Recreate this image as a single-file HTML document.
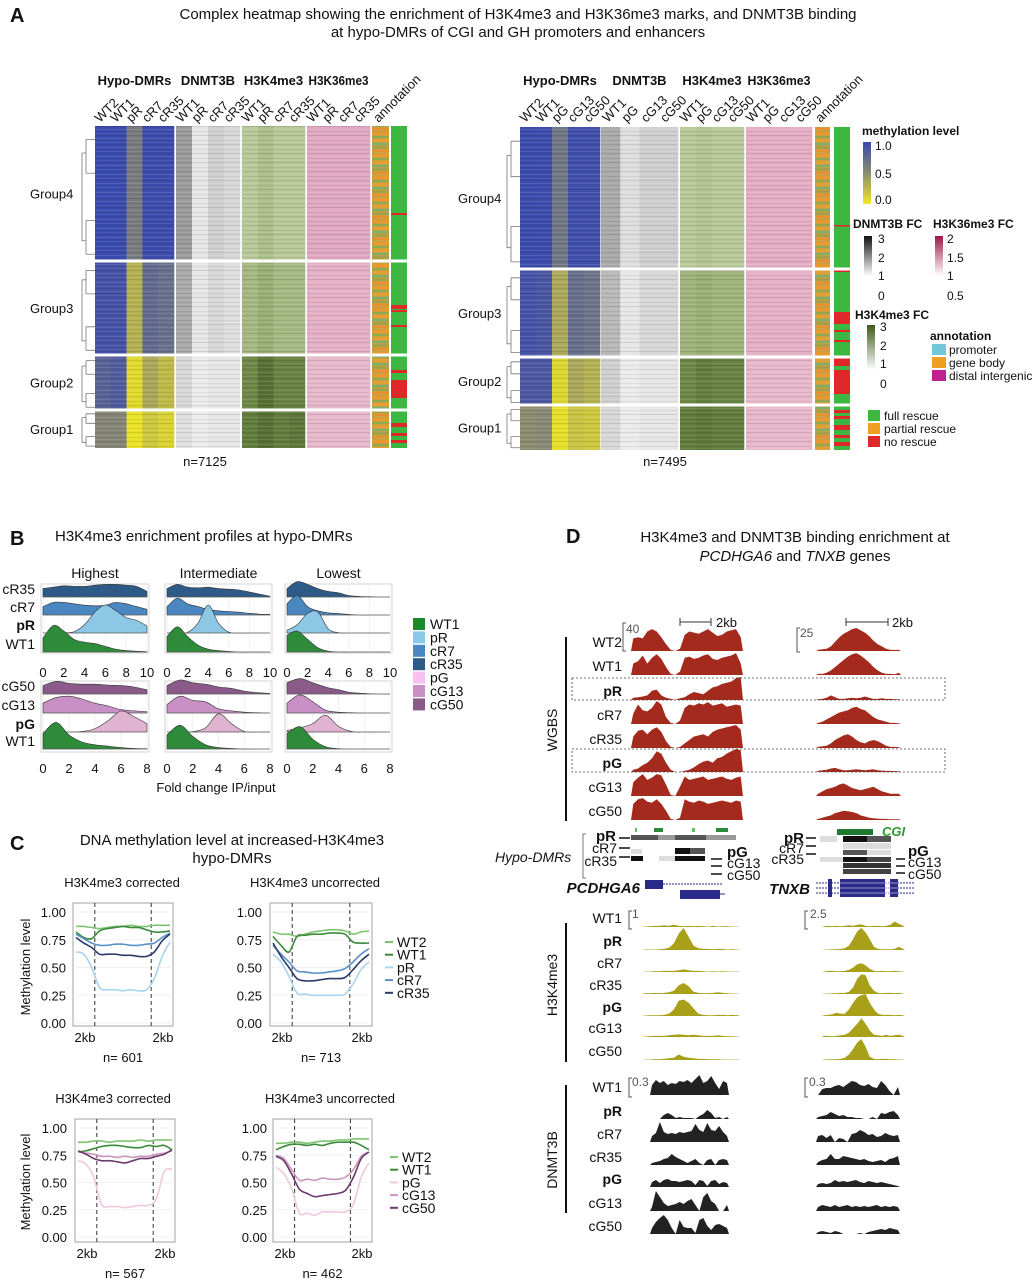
<!DOCTYPE html>
<html><head><meta charset="utf-8"><style>
html,body{margin:0;padding:0;background:#fff;}
svg{display:block;font-family:"Liberation Sans",Arial,sans-serif;}
</style></head><body>
<svg id="fig" width="1035" height="1280" viewBox="0 0 1035 1280" xmlns="http://www.w3.org/2000/svg">
<defs>
<pattern id="stripes" width="7" height="9" patternUnits="userSpaceOnUse">
<rect x="0" y="0" width="7" height="1" fill="#000" opacity="0.10"/>
<rect x="0" y="3" width="7" height="1" fill="#fff" opacity="0.12"/>
<rect x="0" y="5" width="7" height="1" fill="#000" opacity="0.06"/>
<rect x="0" y="7" width="7" height="1" fill="#fff" opacity="0.08"/>
</pattern>
<pattern id="annotTex" width="16" height="22" patternUnits="userSpaceOnUse">
<rect width="16" height="22" fill="#c8a040"/>
<rect y="0" width="16" height="3" fill="#e89a30"/>
<rect y="4" width="16" height="2" fill="#90a850"/>
<rect y="7" width="16" height="3" fill="#e0a035"/>
<rect y="11" width="16" height="2" fill="#78b070"/>
<rect y="14" width="16" height="3" fill="#a8a048"/>
<rect y="18" width="16" height="2" fill="#e89030"/>
</pattern>
<linearGradient id="gMeth" x1="0" y1="0" x2="0" y2="1"><stop offset="0" stop-color="#3848b0"/><stop offset="0.5" stop-color="#8c8c70"/><stop offset="1" stop-color="#f0e820"/></linearGradient>
<linearGradient id="gDnmt" x1="0" y1="0" x2="0" y2="1"><stop offset="0" stop-color="#111"/><stop offset="1" stop-color="#fff"/></linearGradient>
<linearGradient id="gK36" x1="0" y1="0" x2="0" y2="1"><stop offset="0" stop-color="#a01848"/><stop offset="1" stop-color="#fff"/></linearGradient>
<linearGradient id="gK4" x1="0" y1="0" x2="0" y2="1"><stop offset="0" stop-color="#3e5a20"/><stop offset="1" stop-color="#fff"/></linearGradient>
</defs>
<rect width="1035" height="1280" fill="#fff"/>
<g id="root"></g>
</svg>
<script>
// ================= DATA =================
const methLeft = [[0.98,0.98,0.62,0.97,0.97],[0.93,0.93,0.30,0.75,0.70],[0.80,0.85,0.08,0.35,0.25],[0.55,0.55,0.04,0.18,0.12]];
const dnmtLeft = [[1.5,0.5,0.8,0.7],[1.3,0.5,0.7,0.6],[0.7,0.4,0.5,0.5],[0.6,0.4,0.5,0.5]];
const k4Left = [[1.0,1.2,1.0,1.0],[1.3,1.5,1.3,1.3],[2.2,2.6,2.3,2.3],[2.4,2.6,2.4,2.5]];
const k36Left = [[1.15,1.15,1.15,1.15],[1.1,1.1,1.1,1.1],[1.05,1.05,1.05,1.05],[1.05,1.05,1.05,1.05]];
const methRight = [[0.98,0.97,0.66,0.95,0.95],[0.92,0.90,0.35,0.72,0.68],[0.88,0.88,0.10,0.35,0.30],[0.50,0.52,0.05,0.20,0.18]];
const dnmtRight = [[1.3,0.6,0.8,0.8],[1.1,0.5,0.7,0.7],[0.8,0.4,0.5,0.5],[0.7,0.4,0.5,0.5]];
const k4Right = [[1.0,1.1,1.0,1.0],[1.4,1.5,1.4,1.4],[2.2,2.4,2.3,2.3],[2.4,2.5,2.4,2.4]];
const k36Right = [[1.12,1.12,1.12,1.12],[1.1,1.1,1.1,1.1],[1.05,1.05,1.05,1.05],[1.05,1.05,1.05,1.05]];
const colsLeft = {hypo:["WT2","WT1","pR","cR7","cR35"], chip:["WT1","pR","cR7","cR35"]};
const colsRight = {hypo:["WT2","WT1","pG","cG13","cG50"], chip:["WT1","pG","cG13","cG50"]};
const groupNames = ["Group4","Group3","Group2","Group1"];

const ridgeTopLabels = ["cR35","cR7","pR","WT1"];
const ridgeBotLabels = ["cG50","cG13","pG","WT1"];
const ridgeTopTicks = [0,2,4,6,8,10];
const ridgeBotTicks = [0,2,4,6,8];
const ridgeHighestTop = [
 [0.3,0.35,0.4,0.38,0.38,0.42,0.45,0.45,0.42,0.38,0.2],
 [0.3,0.45,0.45,0.4,0.35,0.33,0.35,0.45,0.4,0.3,0.2],
 [0,0,0.01,0.05,0.3,0.75,1,0.8,0.55,0.45,0.25],
 [0.5,0.95,0.75,0.45,0.35,0.3,0.2,0.1,0.05,0.03,0.01]];
const ridgeInterTop = [
 [0.3,0.45,0.35,0.33,0.35,0.3,0.28,0.25,0.18,0.1,0.03],
 [0.3,0.6,0.4,0.3,0.2,0.15,0.12,0.1,0.06,0.03,0.02],
 [0,0,0.02,0.35,1.0,0.35,0.03,0,0,0,0],
 [0.55,0.9,0.55,0.25,0.1,0.05,0.02,0,0,0,0]];
const ridgeLowTop = [
 [0.3,0.55,0.45,0.3,0.2,0.15,0.05,0.02,0.01,0,0],
 [0.4,0.7,0.3,0.15,0.08,0.05,0.02,0,0,0,0],
 [0.1,0.3,0.7,0.75,0.15,0.01,0,0,0,0,0],
 [0.6,0.75,0.45,0.15,0.03,0,0,0,0,0,0]];
const ridgeHighestBot = [
 [0.3,0.45,0.38,0.35,0.35,0.32,0.3,0.25,0.15],
 [0.35,0.55,0.6,0.5,0.35,0.25,0.12,0.08,0.05],
 [0,0,0,0.02,0.12,0.4,0.75,0.55,0.3],
 [0.55,0.95,0.5,0.25,0.15,0.1,0.05,0.02,0.01]];
const ridgeInterBot = [
 [0.3,0.5,0.4,0.35,0.25,0.2,0.1,0.05,0.02],
 [0.3,0.6,0.45,0.4,0.15,0.08,0.03,0.01,0],
 [0,0,0.01,0.15,0.65,0.3,0.02,0,0],
 [0.5,0.85,0.45,0.15,0.05,0.02,0,0,0]];
const ridgeLowBot = [
 [0.4,0.55,0.4,0.25,0.15,0.05,0.02,0,0],
 [0.35,0.65,0.4,0.1,0.03,0.01,0,0,0],
 [0.05,0.15,0.3,0.6,0.2,0.02,0,0,0],
 [0.55,0.8,0.35,0.08,0.01,0,0,0,0]];

const cYTicks = [0,0.25,0.5,0.75,1.0];
const cYTickLabels = ["0.00","0.25","0.50","0.75","1.00"];
const cRSeries = ["WT2","WT1","pR","cR7","cR35"];
const cGSeries = ["WT2","WT1","pG","cG13","cG50"];
const corrR = [
 [0.87,0.87,0.86,0.85,0.86,0.87,0.87,0.88,0.87,0.87,0.88,0.88,0.88],
 [0.82,0.77,0.76,0.83,0.85,0.86,0.87,0.86,0.86,0.84,0.82,0.82,0.83],
 [0.64,0.62,0.5,0.32,0.3,0.3,0.29,0.3,0.29,0.3,0.4,0.6,0.73],
 [0.8,0.76,0.72,0.7,0.7,0.71,0.71,0.7,0.7,0.71,0.72,0.77,0.81],
 [0.77,0.72,0.68,0.62,0.62,0.62,0.61,0.61,0.6,0.6,0.64,0.74,0.8]];
const uncorrR = [
 [0.82,0.8,0.8,0.78,0.8,0.82,0.83,0.84,0.84,0.83,0.8,0.82,0.83],
 [0.78,0.7,0.64,0.78,0.79,0.8,0.8,0.81,0.81,0.8,0.73,0.72,0.72],
 [0.62,0.55,0.42,0.27,0.26,0.25,0.25,0.25,0.25,0.26,0.35,0.48,0.55],
 [0.7,0.62,0.55,0.47,0.46,0.45,0.45,0.46,0.47,0.49,0.55,0.62,0.67],
 [0.72,0.6,0.5,0.4,0.38,0.38,0.39,0.4,0.4,0.41,0.48,0.56,0.62]];
const corrG = [
 [0.87,0.87,0.88,0.88,0.87,0.88,0.88,0.88,0.89,0.88,0.89,0.89,0.89],
 [0.78,0.79,0.81,0.83,0.84,0.84,0.83,0.82,0.82,0.84,0.83,0.84,0.8],
 [0.7,0.67,0.55,0.3,0.28,0.28,0.27,0.28,0.29,0.29,0.35,0.6,0.62],
 [0.78,0.77,0.76,0.74,0.74,0.73,0.74,0.73,0.74,0.74,0.76,0.77,0.79],
 [0.79,0.76,0.72,0.7,0.7,0.69,0.68,0.7,0.72,0.72,0.74,0.76,0.8]];
const uncorrG = [
 [0.86,0.86,0.87,0.87,0.86,0.87,0.88,0.88,0.89,0.89,0.9,0.9,0.9],
 [0.8,0.83,0.85,0.85,0.84,0.85,0.84,0.86,0.87,0.87,0.87,0.84,0.8],
 [0.64,0.58,0.45,0.22,0.22,0.2,0.23,0.23,0.23,0.23,0.3,0.55,0.68],
 [0.75,0.72,0.62,0.52,0.53,0.52,0.54,0.53,0.53,0.55,0.62,0.74,0.78],
 [0.74,0.7,0.58,0.44,0.4,0.37,0.38,0.39,0.4,0.43,0.55,0.72,0.78]];
const cN = ["n= 601","n= 713","n= 567","n= 462"];

const trackLabels = ["WT2","WT1","pR","cR7","cR35","pG","cG13","cG50"];
const chipLabels = ["WT1","pR","cR7","cR35","pG","cG13","cG50"];
const wgbsLeft = [
 [.55,.6,.55,.85,.95,.85,.6,.3,.05,0,.1,.7,.85,.8,.75,.85,.95,.8,.65,.7,.85,.9,.95,.6],
 [.5,.6,.85,.5,.75,.9,.7,.35,.05,0,.15,.75,.8,.7,.75,.85,.9,.7,.65,.75,.8,.85,.95,.5],
 [.1,.12,.15,.2,.4,.45,.2,.1,.05,0,.08,.12,.25,.35,.3,.25,.4,.55,.6,.7,.75,.8,.95,1],
 [.45,.85,.6,.55,.7,1,.85,.3,.05,0,.15,.7,.85,.8,.9,.85,.95,.8,.85,.9,.75,.8,.85,.8],
 [.5,.75,.8,.6,.8,.9,.7,.3,.05,0,.05,.2,.35,.5,.55,.6,.5,.7,.8,.85,.9,.95,1,.8],
 [.1,.15,.3,.4,.6,.9,.8,.4,.1,0,0,.05,.1,.2,.35,.45,.5,.4,.6,.65,.8,.9,1,.95],
 [.6,.8,.95,.7,.8,.95,.9,.5,.05,0,.4,.85,.7,.75,.8,.85,.7,.75,.8,.85,.75,.7,.8,.85],
 [.7,.9,.95,.8,.75,.9,.7,.4,.05,0,.1,.9,.8,.75,.85,.8,.7,.75,.8,.85,.8,.75,.85,.8]];
const wgbsRight = [
 [.05,.08,.1,.2,.4,.6,.75,.85,.95,1,.9,.8,.65,.45,.3,.2,.1,.05,.05,.05],
 [.05,.05,.1,.2,.35,.5,.65,.8,.9,.95,.85,.7,.55,.35,.2,.1,.05,.05,.03,.1],
 [.03,.05,.1,.2,.12,.05,.05,.08,.1,.08,.1,.15,.1,.05,.05,.08,.05,.05,.03,.03],
 [.05,.1,.2,.3,.4,.5,.55,.6,.7,.75,.65,.6,.45,.3,.2,.15,.1,.05,.05,.03],
 [.05,.08,.1,.2,.35,.45,.55,.6,.5,.35,.25,.2,.3,.35,.3,.2,.1,.05,.05,.03],
 [.05,.08,.1,.15,.18,.12,.08,.08,.1,.12,.1,.08,.1,.12,.08,.06,.05,.05,.04,.03],
 [.1,.2,.3,.35,.4,.5,.55,.45,.35,.3,.25,.3,.35,.4,.3,.2,.15,.1,.1,.1],
 [.05,.1,.15,.2,.3,.35,.4,.38,.35,.3,.2,.15,.1,.08,.06,.05,.05,.03,.03,.03]];
const k4TrackLeft = [
 [.02,.03,.05,.05,.08,.05,.1,.05,.03,.05,.03,.05,.03,.02,.05,.02,.03,.03,.02,.02],
 [.02,.02,.02,.03,.05,.1,.3,.75,1,.6,.2,.08,.05,.05,.03,.05,.05,.02,.03,.02],
 [.02,.02,.03,.03,.05,.05,.05,.08,.12,.08,.05,.05,.03,.02,.03,.02,.03,.02,.02,.02],
 [.03,.03,.05,.03,.05,.08,.15,.4,.5,.35,.1,.05,.03,.03,.05,.08,.05,.03,.02,.02],
 [.02,.03,.03,.03,.05,.1,.3,.7,.75,.6,.35,.1,.05,.03,.03,.05,.05,.03,.05,.03],
 [.02,.03,.05,.05,.05,.08,.1,.12,.1,.08,.1,.08,.05,.05,.05,.08,.05,.03,.03,.02],
 [.02,.02,.03,.03,.05,.08,.1,.25,.15,.1,.08,.05,.05,.03,.03,.03,.02,.02,.02,.02]];
const k4TrackRight = [
 [.03,.05,.03,.05,.03,.05,.08,.05,.1,.12,.05,.03,.05,.05,.03,.05,.1,.25,.15,.05],
 [.02,.02,.03,.03,.05,.08,.2,.5,.85,1,.8,.5,.15,.05,.03,.03,.03,.05,.15,.05],
 [.02,.05,.05,.03,.03,.05,.1,.2,.35,.4,.3,.15,.05,.03,.05,.03,.03,.05,.03,.02],
 [.02,.02,.03,.03,.05,.05,.1,.3,.7,.9,.85,.4,.15,.05,.03,.05,.05,.03,.05,.02],
 [.03,.05,.08,.15,.1,.1,.3,.6,.85,.95,1,.6,.3,.1,.05,.05,.05,.03,.05,.03],
 [.05,.05,.03,.05,.08,.1,.2,.4,.6,.85,.6,.3,.1,.08,.05,.1,.05,.08,.1,.05],
 [.02,.03,.03,.03,.05,.1,.25,.5,.8,.95,.6,.15,.05,.03,.05,.05,.03,.03,.02,.02]];
const dnmtTrackLeft = [
 [.5,.75,.6,.7,.5,.6,.55,.7,.65,.75,.6,.8,1,.6,.7,.95,.6,.3,.7,.6],
 [0,0,0,.2,.3,.2,.05,.1,.05,.05,.05,0,.15,.25,.45,.3,.05,.1,0,.1],
 [.3,.45,1,.5,.4,.45,.4,.5,.45,.5,.55,.9,.6,.5,.95,.6,.55,.8,.5,.3],
 [.1,.15,.2,.3,.35,.55,.4,.3,.2,.1,.2,.3,.1,0,.25,.3,0,.25,.3,.25],
 [.25,.35,.2,.35,.4,.3,.3,.25,.3,.35,.3,.1,.35,.3,.05,.3,.35,.15,.25,.2],
 [.2,1,.7,.4,.25,.3,.35,.45,.35,.5,.6,.3,0,.7,.9,.5,.35,0,0,.3],
 [.3,.6,.8,.95,.7,.3,0,.7,.35,.3,.3,.05,.7,.8,.4,.2,.45,.5,.4,.3]];
const dnmtTrackRight = [
 [0,.3,.35,.35,.45,.5,.4,.55,.7,.65,.5,.45,.55,.4,.35,.7,.5,.2,0,.4],
 [.1,.15,.2,.35,.25,.15,.2,.1,.1,.05,.05,0,0,.1,0,.3,.25,.35,.4,.2],
 [.3,.35,.2,.35,0,.2,.15,0,.4,.45,.6,.5,.35,.4,.25,.3,.45,.35,.3,.35],
 [.15,.25,.3,.55,.3,.3,.45,.4,.35,.3,.25,.3,.2,.15,.2,.25,.15,.3,.35,.45],
 [.15,.2,.15,.2,.35,.25,.3,.25,.3,.35,.25,.2,.3,.25,.2,.25,.2,.15,.1,.05],
 [.2,.3,.25,.2,.3,.2,.25,.3,.2,.25,.2,.25,.2,.25,.3,.2,.25,.2,.25,.2],
 [.1,.15,.1,.05,.15,.1,0,0,0,0,.05,0,.1,.15,.2,.25,.2,.3,.25,.2]];

// ================= HELPERS =================
const NS = "http://www.w3.org/2000/svg";
const root = document.getElementById("root");
function el(tag, attrs, parent, txt){
  const e = document.createElementNS(NS, tag);
  for (const k in attrs) e.setAttribute(k, attrs[k]);
  if (txt !== undefined) e.textContent = txt;
  (parent || root).appendChild(e);
  return e;
}
function txt(x, y, s, opts, name, parent){
  const o = Object.assign({x:x, y:y, "font-size":13, fill:"#111"}, opts||{});
  const e = el("text", o, parent, s);
  
  
  return e;
}
function hex(c){return [parseInt(c.substr(1,2),16),parseInt(c.substr(3,2),16),parseInt(c.substr(5,2),16)];}
function scaleColor(stops, v){
  if (v <= stops[0][0]) return stops[0][1];
  for (let i=1;i<stops.length;i++){
    if (v <= stops[i][0]){
      const t=(v-stops[i-1][0])/(stops[i][0]-stops[i-1][0]);
      const a=hex(stops[i-1][1]), b=hex(stops[i][1]);
      return "rgb("+a.map((u,j)=>Math.round(u+(b[j]-u)*t)).join(",")+")";
    }
  }
  return stops[stops.length-1][1];
}
const methScale = [[0,"#f0e820"],[0.5,"#8c8c70"],[1,"#3848b0"]];
const dnmtScale = [[0,"#ffffff"],[0.5,"#e6e6e6"],[1.5,"#9a9a9a"],[3,"#111111"]];
const k4Scale = [[0,"#ffffff"],[1,"#b8c898"],[2,"#7a9450"],[3,"#3e5a20"]];
const k36Scale = [[0.5,"#ffffff"],[1,"#eac0d0"],[1.5,"#d070a0"],[2,"#a01848"]];
function smoothPath(pts){
  let d = "M"+pts[0][0].toFixed(1)+","+pts[0][1].toFixed(1);
  for (let i=0;i<pts.length-1;i++){
    const p0=pts[Math.max(0,i-1)], p1=pts[i], p2=pts[i+1], p3=pts[Math.min(pts.length-1,i+2)];
    const c1=[p1[0]+(p2[0]-p0[0])/6, p1[1]+(p2[1]-p0[1])/6];
    const c2=[p2[0]-(p3[0]-p1[0])/6, p2[1]-(p3[1]-p1[1])/6];
    d += " C"+c1[0].toFixed(1)+","+c1[1].toFixed(1)+" "+c2[0].toFixed(1)+","+c2[1].toFixed(1)+" "+p2[0].toFixed(1)+","+p2[1].toFixed(1);
  }
  return d;
}

// ================= PANEL A =================
txt(10, 22, "A", {"font-size":20,"font-weight":"bold"}, "panel-a-label");
txt(518, 19, "Complex heatmap showing the enrichment of H3K4me3 and H3K36me3 marks, and DNMT3B binding", {"font-size":15,"text-anchor":"middle"}, "panel-a-title-line1");
txt(518, 37, "at hypo-DMRs of CGI and GH promoters and enhancers", {"font-size":15,"text-anchor":"middle"}, "panel-a-title-line2");

function heatBlock(g, x0, x1, bounds, vals, scale, name){
  const n = vals[0].length, w = (x1-x0)/n;
  for (let gi=0; gi<4; gi++){
    const yT = bounds[gi]+(gi?1.5:0), yB = bounds[gi+1]-(gi<3?1.5:0);
    for (let c=0;c<n;c++){
      const r = el("rect",{x:x0+c*w, y:yT, width:w+0.3, height:yB-yT, fill:scaleColor(scale, vals[gi][c])}, g);
      
      
    }
  }
  const ov = el("rect",{x:x0,y:bounds[0],width:x1-x0,height:bounds[4]-bounds[0],fill:"url(#stripes)"}, g);
  
  
  for (let gi=1; gi<4; gi++){
    el("rect",{x:x0,y:bounds[gi]-1.5,width:x1-x0,height:3,fill:"#fff"}, g);
  }
}
function heatmap(cfg){
  const g = el("g",{});
  
  
  const B = cfg.bounds;
  heatBlock(g, cfg.xs[0], cfg.xs[1], B, cfg.meth, methScale, "hypo-dmr");
  heatBlock(g, cfg.xs[2], cfg.xs[3], B, cfg.dnmt, dnmtScale, "dnmt3b");
  heatBlock(g, cfg.xs[4], cfg.xs[5], B, cfg.k4, k4Scale, "h3k4me3");
  heatBlock(g, cfg.xs[6], cfg.xs[7], B, cfg.k36, k36Scale, "h3k36me3");
  const an = el("rect",{x:cfg.xs[8],y:B[0],width:cfg.xs[9]-cfg.xs[8],height:B[4]-B[0],fill:"url(#annotTex)"}, g);
  
  
  const rr = el("rect",{x:cfg.xs[10],y:B[0],width:cfg.xs[11]-cfg.xs[10],height:B[4]-B[0],fill:"#3cb840"}, g);
  
  
  cfg.red.forEach(function(s){
    const t = el("rect",{x:cfg.xs[10],y:s[0],width:cfg.xs[11]-cfg.xs[10],height:s[1],fill:s[2]||"#e02828"}, g);
    
    
  });
  for (let gi=1; gi<4; gi++){
    el("rect",{x:cfg.xs[8],y:B[gi]-1.5,width:cfg.xs[11]-cfg.xs[8],height:3,fill:"#fff"}, g);
  }
  const hy = 85;
  [["Hypo-DMRs",0,1],["DNMT3B",2,3],["H3K4me3",4,5],["H3K36me3",6,7]].forEach(function(h){
    const w = cfg.xs[h[2]]-cfg.xs[h[1]];
    const t = txt((cfg.xs[h[1]]+cfg.xs[h[2]])/2, hy, h[0], {"font-size":13,"font-weight":"bold","text-anchor":"middle"}, "column-group-header", g);
    const est = h[0].length*8.2;
    if (est > w-2) { t.setAttribute("textLength", w-3); t.setAttribute("lengthAdjust","spacingAndGlyphs"); }
  });
  function colLabels(x0,x1,labs){
    const w=(x1-x0)/labs.length;
    labs.forEach(function(l,i){
      const cx = x0+w*i+w/2-3;
      txt(cx, 123, l, {"font-size":13,transform:"rotate(-45 "+cx+" 123)"}, "column-label", g);
    });
  }
  colLabels(cfg.xs[0],cfg.xs[1],cfg.cols.hypo);
  colLabels(cfg.xs[2],cfg.xs[3],cfg.cols.chip);
  colLabels(cfg.xs[4],cfg.xs[5],cfg.cols.chip);
  colLabels(cfg.xs[6],cfg.xs[7],cfg.cols.chip);
  const ax = (cfg.xs[8]+cfg.xs[9])/2 - 2;
  txt(ax, 123, "annotation", {"font-size":13,transform:"rotate(-45 "+ax+" 123)"}, "annotation-column-label", g);
  const dx = cfg.xs[0];
  for (let gi=0; gi<4; gi++){
    const yT=B[gi], yB=B[gi+1], mid=(yT+yB)/2;
    txt(cfg.gx, mid+5, groupNames[gi], {"font-size":13}, "group-label", g);
    const d = el("path",{d:"M"+(dx-13)+","+(yT+(yB-yT)*0.2)+" H"+(dx-9)+" M"+(dx-13)+","+(yT+(yB-yT)*0.2)+" V"+(yB-(yB-yT)*0.15)+" H"+(dx-9)+
      " M"+(dx-9)+","+(yT+(yB-yT)*0.1)+" V"+(yT+(yB-yT)*0.35)+" M"+(dx-9)+","+(yB-(yB-yT)*0.3)+" V"+(yB-(yB-yT)*0.05)+
      " M"+(dx-9)+","+(yT+(yB-yT)*0.1)+" H"+dx+" M"+(dx-9)+","+(yT+(yB-yT)*0.35)+" H"+dx+" M"+(dx-9)+","+(yB-(yB-yT)*0.3)+" H"+dx+" M"+(dx-9)+","+(yB-(yB-yT)*0.05)+" H"+dx,
      fill:"none",stroke:"#777","stroke-width":0.8}, g);
    
    
  }
  txt(cfg.nx, 466, cfg.n, {"font-size":13,"text-anchor":"middle"}, "row-count", g);
}
heatmap({name:"heatmap-left", xs:[95,174,176,240,242,305,307,370,372,389,391,407], bounds:[126,261,355,410,448],
  meth:methLeft, dnmt:dnmtLeft, k4:k4Left, k36:k36Left, cols:colsLeft, gx:30, nx:205, n:"n=7125",
  red:[[213,2],[305,4],[310,2],[325,2],[370,3],[380,18],[395,3],[423,4],[433,3],[440,3]]});
heatmap({name:"heatmap-right", xs:[520,600,601,678,680,744,746,812,815,830,834,850], bounds:[127,269,357,405,450],
  meth:methRight, dnmt:dnmtRight, k4:k4Right, k36:k36Right, cols:colsRight, gx:458, nx:665, n:"n=7495",
  red:[[225,1.5],[270,2],[312,12],[330,2],[340,2],[358,8],[370,24],[410,3],[416,3],[425,5],[435,3],[442,4]]});

(function(){
  const g = el("g",{});
  
  
  txt(862, 135, "methylation level", {"font-size":12,"font-weight":"bold"}, "legend-title", g);
  el("rect",{x:863,y:142,width:8,height:62,fill:"url(#gMeth)"}, g);
  [["1.0",150],["0.5",178],["0.0",204]].forEach(l=>txt(875,l[1],l[0],{"font-size":12},"legend-tick",g));
  txt(853, 228, "DNMT3B FC", {"font-size":12,"font-weight":"bold"}, "legend-title", g);
  el("rect",{x:864,y:236,width:8,height:40,fill:"url(#gDnmt)"}, g);
  [["3",243],["2",262],["1",280],["0",300]].forEach(l=>txt(878,l[1],l[0],{"font-size":12},"legend-tick",g));
  txt(933, 228, "H3K36me3 FC", {"font-size":12,"font-weight":"bold"}, "legend-title", g);
  el("rect",{x:935,y:236,width:8,height:40,fill:"url(#gK36)"}, g);
  [["2",243],["1.5",262],["1",280],["0.5",300]].forEach(l=>txt(947,l[1],l[0],{"font-size":12},"legend-tick",g));
  txt(855, 319, "H3K4me3 FC", {"font-size":12,"font-weight":"bold"}, "legend-title", g);
  el("rect",{x:867,y:325,width:8,height:45,fill:"url(#gK4)"}, g);
  [["3",331],["2",350],["1",368],["0",388]].forEach(l=>txt(880,l[1],l[0],{"font-size":12},"legend-tick",g));
  txt(930, 340, "annotation", {"font-size":12,"font-weight":"bold"}, "legend-title", g);
  [["promoter","#70c8d8",344],["gene body","#f0a020",357],["distal intergenic","#c02090",370]].forEach(function(a){
    el("rect",{x:932,y:a[2],width:14,height:11,fill:a[1]}, g);
    txt(949,a[2]+10,a[0],{"font-size":12},"legend-entry",g);
  });
  [["full rescue","#3cb840",410],["partial rescue","#f0a020",423],["no rescue","#e02828",436]].forEach(function(a){
    el("rect",{x:868,y:a[2],width:12,height:11,fill:a[1]}, g);
    txt(884,a[2]+10,a[0],{"font-size":12},"legend-entry",g);
  });
})();

// ================= PANEL B =================
txt(10, 545, "B", {"font-size":20,"font-weight":"bold"}, "panel-b-label");
txt(55, 541, "H3K4me3 enrichment profiles at hypo-DMRs", {"font-size":15}, "panel-b-title");
const ridgeColorsTop = ["#2e5a88","#4a86c0","#8cc8e6","#2e8b3a"];
const ridgeColorsBot = ["#8a5a88","#c890c4","#e0b4d0","#2e8b3a"];
const panelsX = [[43,147],[167,270],[287,390]];
const panelTitles = ["Highest","Intermediate","Lowest"];
function ridgePanel(px, data, bases, colors, domainMax, ticks, frame, tickY, name){
  const g = el("g",{});
  
  
  const sx = v => px[0] + (v/domainMax)*(px[1]-px[0]);
  const fr = el("rect",{x:px[0]-2,y:frame[0],width:px[1]-px[0]+4,height:frame[1]-frame[0],fill:"#fff",stroke:"#ccc","stroke-width":0.8}, g);
  
  
  ticks.forEach(function(t){
    el("line",{x1:sx(t),x2:sx(t),y1:frame[0],y2:frame[1],stroke:"#eee","stroke-width":0.8}, g);
    txt(sx(t), tickY, String(t), {"font-size":13,"text-anchor":"middle"}, "x-tick-label", g);
  });
  data.forEach(function(series, i){
    const base = bases[i];
    const pts = series.map((v,k)=>[sx(k), base - v*28]);
    const d = smoothPath(pts) + " L"+sx(series.length-1)+","+base+" L"+sx(0)+","+base+" Z";
    const p = el("path",{d:d, fill:colors[i], stroke:"#333","stroke-width":0.6}, g);
    
    
    el("line",{x1:sx(0),x2:px[1],y1:base,y2:base,stroke:"#666","stroke-width":0.6}, g);
  });
}
const topBases=[597,615,633,652], botBases=[694,713,732,749];
const topData=[ridgeHighestTop,ridgeInterTop,ridgeLowTop], botData=[ridgeHighestBot,ridgeInterBot,ridgeLowBot];
for (let p=0;p<3;p++){
  txt((panelsX[p][0]+panelsX[p][1])/2, 578, panelTitles[p], {"font-size":14,"text-anchor":"middle"}, "facet-title");
  ridgePanel(panelsX[p], topData[p], topBases, ridgeColorsTop, 10, ridgeTopTicks, [584,653], 677, "ridge-panel-top-"+p);
  ridgePanel(panelsX[p], botData[p], botBases, ridgeColorsBot, 8, ridgeBotTicks, [681,752], 773, "ridge-panel-bottom-"+p);
}
ridgeTopLabels.forEach((l,i)=>txt(35, topBases[i]-3, l, {"font-size":14,"text-anchor":"end","font-weight":l==="pR"?"bold":"normal"}, "ridge-row-label"));
ridgeBotLabels.forEach((l,i)=>txt(35, botBases[i]-3, l, {"font-size":14,"text-anchor":"end","font-weight":l==="pG"?"bold":"normal"}, "ridge-row-label"));
txt(216, 792, "Fold change IP/input", {"font-size":13,"text-anchor":"middle"}, "x-axis-title");
[["WT1","#1a8a2a"],["pR","#8cc8e6"],["cR7","#4a86c0"],["cR35","#2e5a88"],["pG","#f8c0f0"],["cG13","#c890c4"],["cG50","#8a5a88"]].forEach(function(l,i){
  const y = 618 + i*13.4;
  const r = el("rect",{x:413,y:y,width:12,height:12,fill:l[1]});
  
  
  txt(430, y+11, l[0], {"font-size":14}, "legend-entry");
});

// ================= PANEL C =================
txt(10, 850, "C", {"font-size":20,"font-weight":"bold"}, "panel-c-label");
txt(232, 845, "DNA methylation level at increased-H3K4me3", {"font-size":15,"text-anchor":"middle"}, "panel-c-title-line1");
txt(232, 863, "hypo-DMRs", {"font-size":15,"text-anchor":"middle"}, "panel-c-title-line2");
const lineColorsR = ["#7cc46e","#3a8a3a","#a8d4ee","#5a90c8","#2a3a6a"];
const lineColorsG = ["#7cc46e","#3a8a3a","#f0c8dc","#c898c0","#6a3a6a"];
function profilePlot(cfg){
  const g = el("g",{});
  
  
  const sy = v => cfg.y0 - v*(cfg.y0-cfg.y1);
  const nPts = cfg.data[0].length;
  const sx = i => cfg.x0+3 + i*((cfg.x1-3)-(cfg.x0+3))/(nPts-1);
  const fr = el("rect",{x:cfg.x0,y:cfg.top,width:cfg.x1-cfg.x0,height:cfg.bot-cfg.top,fill:"#fff",stroke:"#999","stroke-width":0.9}, g);
  
  
  cYTicks.forEach(function(t,i){
    el("line",{x1:cfg.x0,x2:cfg.x1,y1:sy(t),y2:sy(t),stroke:"#eee","stroke-width":0.8}, g);
    txt(cfg.lx, sy(t)+5, cYTickLabels[i], {"font-size":13,"text-anchor":"end"}, "y-tick-label", g);
  });
  [2.4, 9.6].forEach(function(k){
    const x = cfg.x0+3 + k*((cfg.x1-3)-(cfg.x0+3))/(nPts-1);
    const l = el("line",{x1:x,x2:x,y1:cfg.top,y2:cfg.bot,stroke:"#333","stroke-width":1,"stroke-dasharray":"4,3"}, g);
    
    
  });
  cfg.data.forEach(function(s,i){
    const pts = s.map((v,k)=>[sx(k), sy(v)]);
    const p = el("path",{d:smoothPath(pts), fill:"none", stroke:cfg.colors[i], "stroke-width":1.6}, g);
    
    
  });
  txt(cfg.x0+12, cfg.bot+16, "2kb", {"font-size":13,"text-anchor":"middle"}, "x-tick-label", g);
  txt(cfg.x1-10, cfg.bot+16, "2kb", {"font-size":13,"text-anchor":"middle"}, "x-tick-label", g);
  txt((cfg.x0+cfg.x1)/2, cfg.bot+36, cfg.n, {"font-size":13,"text-anchor":"middle"}, "sample-count", g);
  txt(cfg.tx, cfg.top-16, cfg.title, {"font-size":13,"text-anchor":"middle"}, "plot-title", g);
}
profilePlot({name:"profile-corrected-r", x0:73,x1:173,top:903,bot:1026,y1:912,y0:1023,lx:66,data:corrR,colors:lineColorsR,series:cRSeries,n:cN[0],title:"H3K4me3 corrected",tx:122});
profilePlot({name:"profile-uncorrected-r", x0:270,x1:372,top:903,bot:1026,y1:912,y0:1023,lx:262,data:uncorrR,colors:lineColorsR,series:cRSeries,n:cN[1],title:"H3K4me3 uncorrected",tx:315});
profilePlot({name:"profile-corrected-g", x0:75,x1:175,top:1119,bot:1242,y1:1128,y0:1237,lx:67,data:corrG,colors:lineColorsG,series:cGSeries,n:cN[2],title:"H3K4me3 corrected",tx:113});
profilePlot({name:"profile-uncorrected-g", x0:273,x1:372,top:1119,bot:1242,y1:1128,y0:1237,lx:267,data:uncorrG,colors:lineColorsG,series:cGSeries,n:cN[3],title:"H3K4me3 uncorrected",tx:330});
txt(30, 967, "Methylation level", {"font-size":13,"text-anchor":"middle",transform:"rotate(-90 30 967)"}, "y-axis-title");
txt(30, 1182, "Methylation level", {"font-size":13,"text-anchor":"middle",transform:"rotate(-90 30 1182)"}, "y-axis-title");
function cLegend(x, y0, labels, colors){
  labels.forEach(function(l,i){
    const y = y0 + i*12.7;
    const ln = el("line",{x1:x,x2:x+8,y1:y-4,y2:y-4,stroke:colors[i],"stroke-width":2});
    
    
    txt(x+12, y+1, l, {"font-size":14}, "legend-entry");
  });
}
cLegend(385, 946, cRSeries, lineColorsR);
cLegend(390, 1161, cGSeries, lineColorsG);

// ================= PANEL D =================
txt(566, 543, "D", {"font-size":20,"font-weight":"bold"}, "panel-d-label");
txt(795, 542, "H3K4me3 and DNMT3B binding enrichment at", {"font-size":15,"text-anchor":"middle"}, "panel-d-title-line1");
(function(){
  const t = txt(795, 561, "", {"font-size":15,"text-anchor":"middle"}, "panel-d-title-line2");
  el("tspan",{"font-style":"italic"},t,"PCDHGA6");
  el("tspan",{},t," and ");
  el("tspan",{"font-style":"italic"},t,"TNXB");
  el("tspan",{},t," genes");
})();
function trackArea(x0, x1, base, vals, hmax, color, name){
  const n = vals.length, w = (x1-x0)/n;
  let d = "M"+x0+","+base;
  vals.forEach(function(v,i){
    const cx = x0 + w*i + w/2;
    d += " L"+cx.toFixed(1)+","+(base - v*hmax).toFixed(1);
  });
  d += " L"+x1+","+base+" Z";
  const p = el("path",{d:d, fill:color});
  
  
}
const wgbsBases = [651,675,700,724,748,772,796,820];
trackLabels.forEach(function(l,i){
  txt(622, wgbsBases[i]-4, l, {"font-size":14,"text-anchor":"end","font-weight":(l==="pR"||l==="pG")?"bold":"normal"}, "track-label");
  trackArea(631, 743, wgbsBases[i], wgbsLeft[i], 23, "#a52a1e", "wgbs-track-pcdhga6");
  trackArea(816, 901, wgbsBases[i], wgbsRight[i], 23, "#a52a1e", "wgbs-track-tnxb");
});
el("line",{x1:566,x2:566,y1:637,y2:821,stroke:"#111","stroke-width":2});
txt(557, 730, "WGBS", {"font-size":14,"text-anchor":"middle",transform:"rotate(-90 557 730)"}, "track-group-label");
el("rect",{x:572,y:678,width:373,height:22,fill:"none",stroke:"#444","stroke-width":0.8,"stroke-dasharray":"2,2"});
el("rect",{x:572,y:749,width:373,height:23,fill:"none",stroke:"#444","stroke-width":0.8,"stroke-dasharray":"2,2"});
el("path",{d:"M626,623 H623 V651 H626",fill:"none",stroke:"#555","stroke-width":1});
txt(626, 633, "40", {"font-size":12,fill:"#555"}, "scale-label");
el("path",{d:"M800,628 H797 V652 H800",fill:"none",stroke:"#555","stroke-width":1});
txt(800, 637, "25", {"font-size":12,fill:"#555"}, "scale-label");
el("path",{d:"M680,618 V626 M680,622 H711 M711,618 V626",fill:"none",stroke:"#333","stroke-width":1});
txt(716, 627, "2kb", {"font-size":13}, "scale-bar-label");
el("path",{d:"M846,618 V626 M846,622 H888 M888,618 V626",fill:"none",stroke:"#333","stroke-width":1});
txt(892, 627, "2kb", {"font-size":13}, "scale-bar-label");

txt(495, 862, "Hypo-DMRs", {"font-size":14,"font-style":"italic"}, "hypo-dmr-label");
el("path",{d:"M586,834 H583 V878 H586",fill:"none",stroke:"#777","stroke-width":1});
txt(616, 841, "pR", {"font-size":15,"font-weight":"bold","text-anchor":"end"}, "dmr-label");
txt(617, 853, "cR7", {"font-size":14,"text-anchor":"end"}, "dmr-label");
txt(617, 866, "cR35", {"font-size":14,"text-anchor":"end"}, "dmr-label");
el("path",{d:"M619,838 H630 M619,848 H630 M619,857 H630",stroke:"#111","stroke-width":1.5});
[[635,637,"#60c060"],[654,663,"#2a8a3a"],[692,695,"#60c060"],[716,728,"#2a8a3a"]].forEach(r=>el("rect",{x:r[0],y:828,width:r[1]-r[0],height:4,fill:r[2]}));
[[631,658,"#555"],[658,675,"#999"],[675,706,"#555"],[706,736,"#999"]].forEach(r=>el("rect",{x:r[0],y:835,width:r[1]-r[0],height:5,fill:r[2]}));
el("rect",{x:631,y:849,width:11,height:5,fill:"#ddd"});
el("rect",{x:675,y:848,width:15,height:6,fill:"#111"});el("rect",{x:690,y:848,width:15,height:6,fill:"#555"});
el("rect",{x:631,y:856,width:12,height:5,fill:"#111"});el("rect",{x:659,y:856,width:16,height:5,fill:"#ddd"});el("rect",{x:675,y:856,width:30,height:5,fill:"#111"});
el("path",{d:"M711,859 H722 M711,866 H722 M711,874 H722",stroke:"#111","stroke-width":1.5});
txt(727, 857, "pG", {"font-size":15,"font-weight":"bold"}, "dmr-label");
txt(727, 868, "cG13", {"font-size":14}, "dmr-label");
txt(727, 880, "cG50", {"font-size":14}, "dmr-label");
txt(640, 893, "PCDHGA6", {"font-size":15,"font-weight":"bold","font-style":"italic","text-anchor":"end"}, "gene-name");
el("rect",{x:645,y:880,width:18,height:9,fill:"#2a2a8a"});
el("line",{x1:663,x2:722,y1:884,y2:884,stroke:"#2a2a8a","stroke-width":1,"stroke-dasharray":"2,1"});
el("rect",{x:680,y:890,width:40,height:9,fill:"#2a2a8a"});
el("line",{x1:720,x2:725,y1:894,y2:894,stroke:"#2a2a8a","stroke-width":1});
txt(804, 843, "pR", {"font-size":15,"font-weight":"bold","text-anchor":"end"}, "dmr-label");
txt(804, 853, "cR7", {"font-size":14,"text-anchor":"end"}, "dmr-label");
txt(804, 864, "cR35", {"font-size":14,"text-anchor":"end"}, "dmr-label");
el("path",{d:"M806,838 H816 M806,846 H816 M806,854 H816",stroke:"#111","stroke-width":1.5});
el("rect",{x:837,y:829,width:36,height:6,fill:"#1e7a30"});
txt(882, 836, "CGI", {"font-size":13,"font-weight":"bold","font-style":"italic",fill:"#2a9a30"}, "cgi-label");
el("rect",{x:820,y:836,width:17,height:6,fill:"#ddd"});el("rect",{x:843,y:836,width:24,height:6,fill:"#111"});el("rect",{x:867,y:836,width:24,height:6,fill:"#555"});
el("rect",{x:843,y:843,width:48,height:6,fill:"#ddd"});
el("rect",{x:843,y:850,width:24,height:5,fill:"#555"});el("rect",{x:867,y:850,width:24,height:5,fill:"#ddd"});
el("rect",{x:820,y:857,width:23,height:5,fill:"#ddd"});el("rect",{x:843,y:857,width:24,height:5,fill:"#111"});el("rect",{x:867,y:857,width:24,height:5,fill:"#444"});
el("rect",{x:843,y:863,width:48,height:5,fill:"#333"});el("rect",{x:843,y:869,width:48,height:5,fill:"#444"});
el("path",{d:"M896,859 H905 M896,866 H905 M896,873 H905",stroke:"#111","stroke-width":1.5});
txt(908, 856, "pG", {"font-size":15,"font-weight":"bold"}, "dmr-label");
txt(908, 867, "cG13", {"font-size":14}, "dmr-label");
txt(908, 879, "cG50", {"font-size":14}, "dmr-label");
txt(810, 894, "TNXB", {"font-size":15,"font-weight":"bold","font-style":"italic","text-anchor":"end"}, "gene-name");
[883,888,893].forEach(y=>el("line",{x1:816,x2:915,y1:y,y2:y,stroke:"#2a2a8a","stroke-width":1,"stroke-dasharray":"2,1"}));
el("rect",{x:828,y:879,width:4,height:18,fill:"#2a2a8a"});el("rect",{x:840,y:879,width:45,height:18,fill:"#2a2a8a"});el("rect",{x:890,y:879,width:8,height:18,fill:"#2a2a8a"});
[883,888,893].forEach(y=>el("line",{x1:840,x2:898,y1:y,y2:y,stroke:"#fff","stroke-width":0.6}));

const k4Bases = [927,950,972,994,1016,1037,1060];
chipLabels.forEach(function(l,i){
  txt(622, k4Bases[i]-4, l, {"font-size":14,"text-anchor":"end","font-weight":(l==="pR"||l==="pG")?"bold":"normal"}, "track-label");
  trackArea(642, 740, k4Bases[i], k4TrackLeft[i], 22, "#a8a018", "h3k4me3-track-pcdhga6");
  trackArea(822, 905, k4Bases[i], k4TrackRight[i], 22, "#a8a018", "h3k4me3-track-tnxb");
});
el("line",{x1:566,x2:566,y1:923,y2:1062,stroke:"#111","stroke-width":2});
txt(557, 985, "H3K4me3", {"font-size":14,"text-anchor":"middle",transform:"rotate(-90 557 985)"}, "track-group-label");
el("path",{d:"M632,911 H629 V929 H632",fill:"none",stroke:"#555","stroke-width":1});
txt(632, 918, "1", {"font-size":12,fill:"#555"}, "scale-label");
el("path",{d:"M808,911 H805 V929 H808",fill:"none",stroke:"#555","stroke-width":1});
txt(810, 918, "2.5", {"font-size":12,fill:"#555"}, "scale-label");

const dBases = [1095,1119,1142,1165,1187,1211,1234];
chipLabels.forEach(function(l,i){
  txt(622, dBases[i]-3, l, {"font-size":14,"text-anchor":"end","font-weight":(l==="pR"||l==="pG")?"bold":"normal"}, "track-label");
  trackArea(650, 729, dBases[i], dnmtTrackLeft[i], 20, "#222", "dnmt3b-track-pcdhga6");
  trackArea(816, 900, dBases[i], dnmtTrackRight[i], 20, "#222", "dnmt3b-track-tnxb");
});
el("line",{x1:566,x2:566,y1:1085,y2:1213,stroke:"#111","stroke-width":2});
txt(557, 1160, "DNMT3B", {"font-size":14,"text-anchor":"middle",transform:"rotate(-90 557 1160)"}, "track-group-label");
el("path",{d:"M632,1078 H629 V1097 H632",fill:"none",stroke:"#555","stroke-width":1});
txt(632, 1086, "0.3", {"font-size":12,fill:"#555"}, "scale-label");
el("path",{d:"M808,1078 H805 V1097 H808",fill:"none",stroke:"#555","stroke-width":1});
txt(809, 1086, "0.3", {"font-size":12,fill:"#555"}, "scale-label");
</script>
</body></html>
